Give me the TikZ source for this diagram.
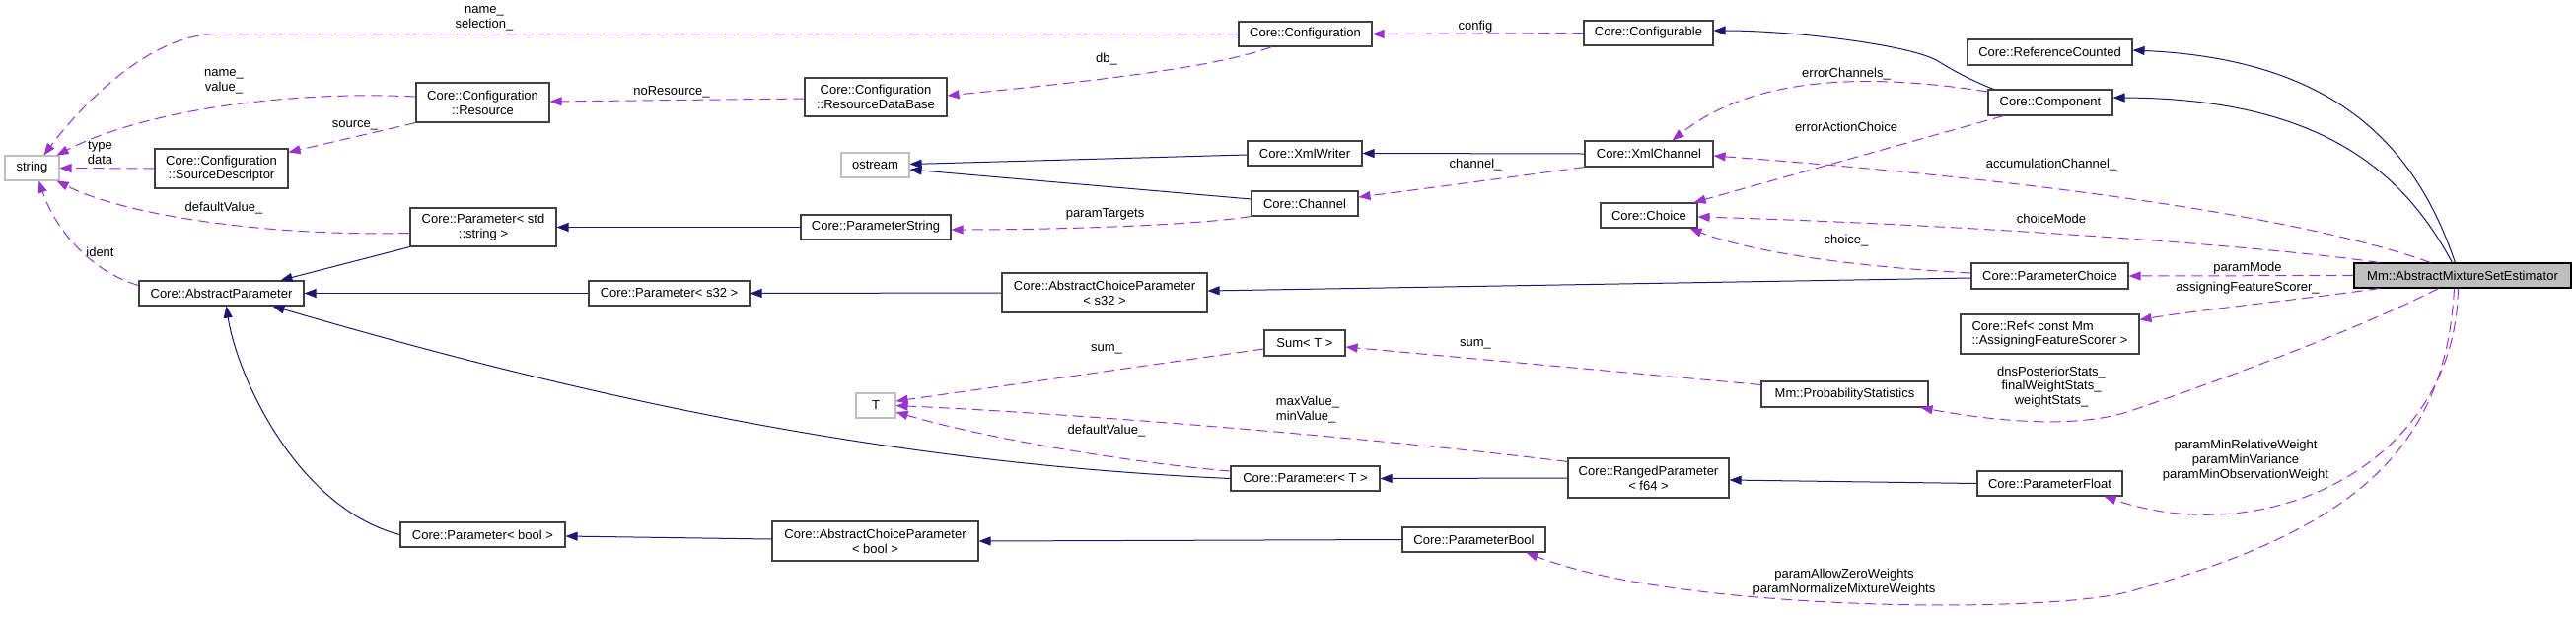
\documentclass[tikz,border=0pt]{standalone}
\usepackage{fontspec}
\setmainfont{Liberation Sans}
\usetikzlibrary{arrows.meta,calc}
\definecolor{navy}{RGB}{25,25,112}
\definecolor{orchid}{RGB}{154,50,205}
\definecolor{boxgray}{RGB}{64,64,64}
\definecolor{extgray}{RGB}{191,191,191}
\newcommand\dgfont{\fontsize{13}{14.7}\selectfont}
\tikzset{
  cls/.style={draw=boxgray, line width=1.1pt, rectangle, inner sep=0pt, fill=white, font=\dgfont, align=center},
  ext/.style={cls, draw=extgray},
  mainbox/.style={cls, draw=black, fill=extgray},
  inh/.style={draw=navy, line width=1pt, -{Triangle[length=12pt,width=9pt]}},
  use/.style={draw=orchid, line width=1pt, dash pattern=on 11pt off 6pt, -{Triangle[length=12pt,width=9pt]}},
  lbl/.style={font=\dgfont, align=center, inner sep=0pt}
}
\begin{document}
\begin{tikzpicture}[x=1pt,y=-1pt]
\fill[white] (0,0) rectangle (2612,625);
\useasboundingbox (0,0) rectangle (2612,625);

% nodes
\node[ext, minimum width=55pt, minimum height=25pt] (string) at (32.5,170.5) {string};
\node[cls, minimum width=135pt, minimum height=40pt] (SD) at (224.5,171) {Core::Configuration\\::SourceDescriptor};
\node[cls, minimum width=167pt, minimum height=25pt] (AP) at (224.5,297.5) {Core::AbstractParameter};
\node[cls, minimum width=135pt, minimum height=40pt] (Res) at (489.5,104) {Core::Configuration\\::Resource};
\node[cls, minimum width=148pt, minimum height=39pt] (PStd) at (490,230.5) {Core::Parameter< std\\::string >};
\node[cls, minimum width=163pt, minimum height=25pt] (Ps32) at (678.5,297.5) {Core::Parameter< s32 >};
\node[cls, minimum width=167pt, minimum height=25pt] (Pbool) at (489.5,542.5) {Core::Parameter< bool >};
\node[cls, minimum width=144pt, minimum height=39pt] (RDB) at (888,98.5) {Core::Configuration\\::ResourceDataBase};
\node[ext, minimum width=69pt, minimum height=25pt] (ostream) at (887.5,167.5) {ostream};
\node[cls, minimum width=152pt, minimum height=25pt] (PString) at (888,230.5) {Core::ParameterString};
\node[cls, minimum width=208pt, minimum height=40pt] (ACPs) at (1120,297) {Core::AbstractChoiceParameter\\< s32 >};
\node[ext, minimum width=40pt, minimum height=25pt] (T) at (888,411.5) {T};
\node[cls, minimum width=209pt, minimum height=40pt] (ACPb) at (887.5,549) {Core::AbstractChoiceParameter\\< bool >};
\node[cls, minimum width=135pt, minimum height=25pt] (Conf) at (1323.5,34.5) {Core::Configuration};
\node[cls, minimum width=116pt, minimum height=25pt] (XW) at (1323,155.5) {Core::XmlWriter};
\node[cls, minimum width=108pt, minimum height=25pt] (Chan) at (1323,206.5) {Core::Channel};
\node[cls, minimum width=82pt, minimum height=26pt] (Sum) at (1323,348) {Sum< T >};
\node[cls, minimum width=151pt, minimum height=25pt] (PT) at (1323.5,485.5) {Core::Parameter< T >};
\node[cls, minimum width=145pt, minimum height=25pt] (PBool) at (1494.5,547.5) {Core::ParameterBool};
\node[cls, minimum width=131pt, minimum height=25pt] (Cfg) at (1671.5,33.5) {Core::Configurable};
\node[cls, minimum width=130pt, minimum height=26pt] (XC) at (1672,156) {Core::XmlChannel};
\node[cls, minimum width=98pt, minimum height=25pt] (Choice) at (1672,218.5) {Core::Choice};
\node[cls, minimum width=169pt, minimum height=26pt] (PS) at (1870.5,400) {Mm::ProbabilityStatistics};
\node[cls, minimum width=163pt, minimum height=40pt] (RP) at (1671.5,485) {Core::RangedParameter\\< f64 >};
\node[cls, minimum width=167pt, minimum height=26pt] (RC) at (2078.5,53) {Core::ReferenceCounted};
\node[cls, minimum width=126pt, minimum height=26pt] (Comp) at (2079,104) {Core::Component};
\node[cls, minimum width=159pt, minimum height=26pt] (PC) at (2078.5,280) {Core::ParameterChoice};
\node[cls, minimum width=181pt, minimum height=40pt, align=left] (Ref) at (2078.5,339) {Core::Ref< const Mm\\::AssigningFeatureScorer >};
\node[cls, minimum width=147pt, minimum height=25pt] (PF) at (2078.5,490.5) {Core::ParameterFloat};
\node[mainbox, minimum width=220pt, minimum height=25pt] (AMSE) at (2497,279.5) {Mm::AbstractMixtureSetEstimator};

% inheritance
\draw[inh] (PStd.south west) -- ($(AP.north west)+(144,0)$);
\draw[inh] (Ps32.west) -- (AP.east);
\draw[inh] (PT.west) .. controls (900,470) and (600,405) .. ($(AP.south west)+(136,0)$);
\draw[inh] (Pbool.west) .. controls (300,515) and (240,380) .. ($(AP.south west)+(89,0)$);
\draw[inh] (PString.west) -- (PStd.east);
\draw[inh] (ACPs.west) -- (Ps32.east);
\draw[inh] ($(XW.west)+(0,1.5)$) -- ($(ostream.east)+(0,-1)$);
\draw[inh] ($(Chan.west)+(0,-4.5)$) -- ($(ostream.east)+(0,4.5)$);
\draw[inh] (XC.west) -- (XW.east);
\draw[inh] ($(PC.west)+(0,2)$) -- ($(ACPs.east)+(0,-2)$);
\draw[inh] (RP.west) -- (PT.east);
\draw[inh] (PF.west) -- ($(RP.east)+(0,2)$);
\draw[inh] ($(ACPb.west)+(0,-2)$) -- ($(Pbool.east)+(0,1.5)$);
\draw[inh] (PBool.west) -- (ACPb.east);
\draw[inh] ($(Comp.north west)+(6,0)$) .. controls (1995,80) and (1978,70) .. (1965,62) .. controls (1939,46) and (1820,31) .. ($(Cfg.east)+(0,-2.5)$);
\draw[inh] ($(AMSE.north west)+(103,0)$) .. controls (2450,150) and (2370,60) .. ($(RC.east)+(0,-2)$);
\draw[inh] ($(AMSE.north west)+(100,0)$) .. controls (2440,180) and (2360,100) .. ($(Comp.east)+(0,-5)$);

% usage
\draw[use] (Conf.west) -- (220,34.5) .. controls (150,34.5) and (80,110) .. ($(string.north west)+(40,0)$);
\draw[use] ($(Res.west)+(0,-6)$) .. controls (300,92) and (150,110) .. ($(string.north east)+(-3,0)$);
\draw[use] (Res.south west) -- ($(SD.north east)+(0,4)$);
\draw[use] (SD.west) -- (string.east);
\draw[use] ($(PStd.west)+(0,6)$) .. controls (280,240) and (130,220) .. ($(string.south east)+(-3,0)$);
\draw[use] ($(AP.west)+(0,-8)$) .. controls (90,275) and (55,230) .. ($(string.south west)+(35,0)$);
\draw[use] ($(RDB.west)+(0,1.5)$) -- ($(Res.east)+(0,-1)$);
\draw[use] ($(Conf.south west)+(34,0)$) .. controls (1230,70) and (1080,85) .. ($(RDB.east)+(0,-1.5)$);
\draw[use] (Cfg.west) -- (Conf.east);
\draw[use] (Chan.south west) .. controls (1200,230) and (1050,233) .. ($(PString.east)+(0,2.5)$);
\draw[use] (XC.south west) .. controls (1560,176) and (1440,192) .. ($(Chan.east)+(0,-6.5)$);
\draw[use] ($(Comp.west)+(0,-11)$) .. controls (1900,75) and (1780,75) .. ($(XC.north east)+(-42,0)$);
\draw[use] ($(Comp.south west)+(16,0)$) -- ($(Choice.north east)+(-4,0)$);
\draw[use] ($(AMSE.north west)+(78,0)$) .. controls (2350,225) and (2100,185) .. ($(XC.east)+(0,2)$);
\draw[use] ($(AMSE.north west)+(26,0)$) .. controls (2300,250) and (2000,228) .. ($(Choice.east)+(0,1.5)$);
\draw[use] ($(PC.west)+(0,-3)$) .. controls (1900,272) and (1780,258) .. ($(Choice.south east)+(-8,0)$);
\draw[use] (AMSE.west) -- (PC.east);
\draw[use] ($(AMSE.south west)+(26,0)$) .. controls (2340,303) and (2240,313) .. ($(Ref.north east)+(0,6)$);
\draw[use] ($(PS.north west)+(0,4)$) -- ($(Sum.east)+(0,4)$);
\draw[use] ($(Sum.west)+(0,6)$) -- ($(T.east)+(0,-4.5)$);
\draw[use] ($(RP.north west)+(0,4)$) .. controls (1400,445) and (1100,420) .. (T.east);
\draw[use] ($(PT.west)+(0,-7.5)$) .. controls (1150,470) and (1000,445) .. ($(T.east)+(0,6.5)$);
\draw[use] ($(AMSE.south west)+(86,0)$) .. controls (2400,330) and (2260,383) .. (2160,417) .. controls (2100,437) and (2010,425) .. ($(PS.south east)+(-8,0)$);
\draw[use] ($(AMSE.south west)+(106,0)$) .. controls (2490,470) and (2300,560) .. ($(PF.south east)+(-19,0)$);
\draw[use] ($(AMSE.south west)+(102,0)$) .. controls (2480,460) and (2380,540) .. (2160,600) .. controls (2073,624) and (1700,620) .. ($(PBool.south east)+(-20,0)$);

% labels
\node[lbl] (l1) at (491,19) {name\_\\selection\_};
\node[lbl] (l2) at (227,83) {name\_\\value\_};
\node[lbl] (l3) at (360,127) {source\_};
\node[lbl] (l4) at (101.5,155) {type\\data};
\node[lbl] (l5) at (227,211) {defaultValue\_};
\node[lbl] (l6) at (101.5,256) {ident};
\node[lbl] (l7) at (681,93) {noResource\_};
\node[lbl] (l8) at (1122,60) {db\_};
\node[lbl] (l9) at (1496,27) {config};
\node[lbl] (l10) at (1120.5,217) {paramTargets};
\node[lbl] (l11) at (1496,167) {channel\_};
\node[lbl] (l12) at (1872,75) {errorChannels\_};
\node[lbl] (l13) at (1872,129) {errorActionChoice};
\node[lbl] (l14) at (2080,167) {accumulationChannel\_};
\node[lbl] (l15) at (2080,222) {choiceMode};
\node[lbl] (l16) at (1872,244) {choice\_};
\node[lbl] (l17) at (2279,272) {paramMode};
\node[lbl] (l18) at (2279,292) {assigningFeatureScorer\_};
\node[lbl] (l19) at (1496,349) {sum\_};
\node[lbl] (l20) at (1122,354) {sum\_};
\node[lbl, align=left] (l21) at (1326,415.5) {maxValue\_\\minValue\_};
\node[lbl] (l22) at (1122,437) {defaultValue\_};
\node[lbl] (l23) at (2080,392.5) {dnsPosteriorStats\_\\finalWeightStats\_\\weightStats\_};
\node[lbl] (l24) at (2277,467) {paramMinRelativeWeight\\paramMinVariance\\paramMinObservationWeight};
\node[lbl] (l25) at (1870,590.5) {paramAllowZeroWeights\\paramNormalizeMixtureWeights};
\end{tikzpicture}
\end{document}
